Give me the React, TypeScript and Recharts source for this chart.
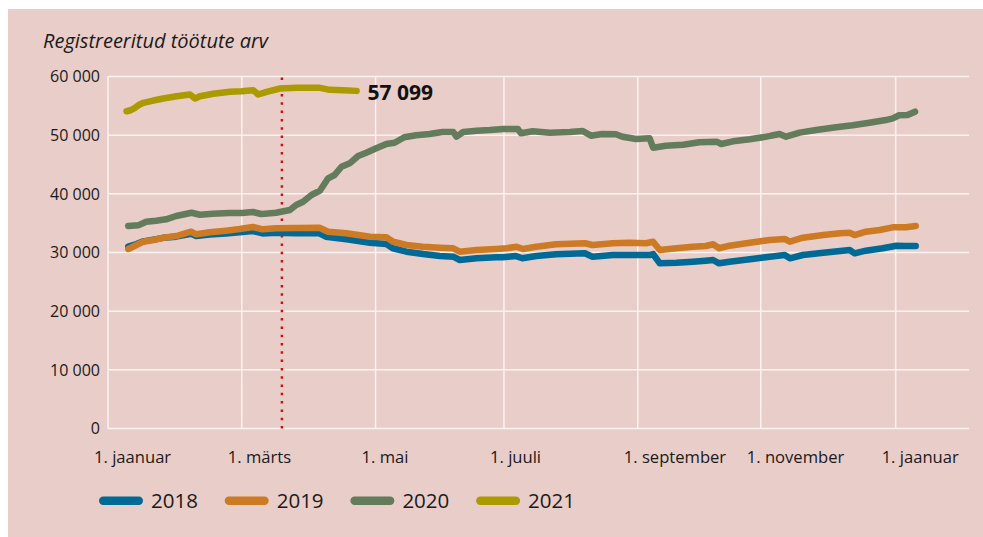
import React from "react";
import { LineChart, Line, XAxis, YAxis, CartesianGrid, ReferenceLine, LabelList } from "recharts";

// x = position along the year axis (chart day index), v = registered unemployed
const x2018 = [9.4, 13.2, 16.3, 21, 25.6, 31.6, 38.5, 40.9, 47.2, 54.7, 61, 67.1, 71.7, 77.9, 87.2, 98, 101, 110.5, 116, 121.4, 129, 132, 138.3, 146, 153.8, 160, 163, 170.8, 180, 183, 189, 192, 198.5, 207.6, 221, 224.5, 234, 241.8, 251, 252.6, 255.7, 263.4, 271, 277, 280.4, 283.2, 288, 297.4, 306.6, 313.6, 316, 322, 331.5, 340.5, 343.7, 346, 351.2, 359, 365.3, 369.7, 374.3];
const v2018 = [31000, 31450, 31900, 32200, 32500, 32700, 33200, 32800, 33050, 33250, 33450, 33650, 33250, 33350, 33300, 33270, 32690, 32250, 31960, 31670, 31450, 30720, 30140, 29740, 29400, 29280, 28720, 29010, 29180, 29180, 29400, 29010, 29400, 29690, 29860, 29280, 29570, 29570, 29570, 29740, 28160, 28260, 28430, 28600, 28720, 28160, 28430, 28840, 29280, 29570, 29010, 29570, 29970, 30310, 30430, 29860, 30310, 30720, 31160, 31110, 31110];

const x2019 = [9.4, 13.2, 16.3, 21, 25.6, 31.6, 38.5, 40.9, 47.2, 54.7, 61, 67.1, 71.7, 77.9, 87.2, 98, 102, 110.5, 116, 121.4, 129, 132.1, 138.3, 146, 153.8, 160, 163, 170.8, 180, 184.7, 189.3, 192.3, 198.5, 207.6, 221, 224.5, 234, 241.8, 249.3, 252.6, 255.7, 263.4, 271, 277, 280.4, 283.2, 288, 297.4, 306.6, 313.6, 316, 322, 331.5, 339.2, 343.7, 346, 351.2, 357.6, 363.7, 369.7, 374.3];
const v2019 = [30600, 31280, 31840, 32130, 32520, 32810, 33540, 33100, 33440, 33720, 34000, 34350, 33950, 34120, 34170, 34230, 33540, 33270, 32980, 32690, 32590, 31840, 31280, 30990, 30820, 30720, 30140, 30430, 30600, 30720, 30990, 30600, 30990, 31400, 31570, 31280, 31570, 31670, 31570, 31840, 30430, 30720, 30990, 31110, 31400, 30720, 31160, 31670, 32130, 32300, 31840, 32520, 32980, 33270, 33370, 32980, 33540, 33840, 34290, 34290, 34520];

const x2020 = [9.4, 14, 17.7, 22.3, 26.9, 31.6, 38.7, 42.6, 48.5, 56.3, 62, 67.1, 71, 77.9, 82.5, 84.3, 87.2, 90.4, 94.3, 98.2, 102, 105, 108.2, 112, 115.9, 119.7, 124.3, 129, 132.8, 137.3, 142.8, 149, 155, 160, 161.5, 164.6, 170.8, 177, 183, 190, 191.4, 196.8, 204.7, 214, 220, 223.8, 229, 235.4, 238.4, 244.8, 251, 252.6, 258.5, 266.5, 274, 282, 284.2, 289.6, 297.4, 303.4, 311.2, 314.2, 320.5, 328.2, 337.4, 345.1, 352.8, 360.5, 363.7, 366.6, 370.5, 374];
const v2020 = [34520, 34630, 35250, 35420, 35660, 36220, 36780, 36440, 36610, 36730, 36750, 36900, 36560, 36780, 37120, 37240, 38100, 38660, 39800, 40530, 42650, 43210, 44620, 45200, 46450, 47010, 47760, 48490, 48710, 49640, 49980, 50200, 50540, 50540, 49740, 50540, 50760, 50880, 51050, 51050, 50320, 50660, 50430, 50540, 50710, 49910, 50200, 50150, 49740, 49350, 49460, 47860, 48200, 48370, 48780, 48890, 48490, 48950, 49300, 49630, 50200, 49740, 50430, 50880, 51340, 51680, 52120, 52580, 52870, 53390, 53440, 54000];

const x2021 = [8.6, 10.5, 12.5, 14.5, 16.4, 21, 25.6, 31.8, 38, 40.3, 42.6, 48.8, 56.5, 62, 67.3, 69.6, 73.5, 79.7, 87.4, 98.2, 102.8, 109, 115.2];
const v2021 = [54080, 54250, 54660, 55200, 55510, 55900, 56250, 56640, 56930, 56250, 56640, 57050, 57390, 57500, 57670, 56930, 57390, 57950, 58070, 58070, 57730, 57650, 57550];
const lastLabel2021 = 57099;

const xTickValues = [0, 62, 124, 183.5, 245.5, 302.5, 365];
const xTickLabels = ["1. jaanuar", "1. märts", "1. mai", "1. juuli", "1. september", "1. november", "1. jaanuar"];
const yTicks = [0, 10000, 20000, 30000, 40000, 50000, 60000];
const emergencyX = 80.6;

const seriesNames = ["2018", "2019", "2020", "2021"];
const seriesColors = ["#006a96", "#cd7a24", "#637d5c", "#ab9a00"];

const build = (xs: number[], vs: number[]) => xs.map((x, i) => ({ x, v: vs[i] }));
const seriesData = [build(x2018, v2018), build(x2019, v2019), build(x2020, v2020), build(x2021, v2021)];

const fmt = (n: number) => String(n).replace(/\B(?=(\d{3})+(?!\d))/g, " ");
const FONT = "'Open Sans', sans-serif";
const TEXT = "#1a1a1a";

const XTick = (props: any) => {
  const { x, y, payload } = props;
  const idx = xTickValues.indexOf(payload.value);
  return (
    <text x={x - 14} y={y + 34} textAnchor="start" fontSize={16.6} fontFamily={FONT} fill={TEXT}>
      {xTickLabels[idx]}
    </text>
  );
};

const lastIdx = x2021.length - 1;
const EndLabel = (props: any) => {
  const { x, y, index } = props;
  if (index !== lastIdx) return null;
  return (
    <text x={x + 11} y={y + 9} fontSize={21} fontWeight={700} fontFamily={FONT} fill="#111">
      {fmt(lastLabel2021)}
    </text>
  );
};

export default function App() {
  return (
    <>
      <style>{`html, body { overflow: hidden; }`}</style>
      <div style={{ position: "fixed", left: 8, top: 9, width: 1000, height: 560, background: "#e9cdc8", overflow: "hidden" }}>
        <LineChart width={975} height={528} margin={{ top: 67.5, right: 14, left: 0, bottom: 0 }}>
          <CartesianGrid stroke="#fbf3f1" strokeWidth={1.5} verticalValues={xTickValues} horizontalValues={yTicks} />
          <XAxis
            type="number"
            dataKey="x"
            domain={[0, 399]}
            ticks={xTickValues}
            tick={<XTick />}
            tickLine={false}
            axisLine={false}
            tickSize={0}
            tickMargin={0}
            height={108.5}
            allowDataOverflow
            interval={0}
          />
          <YAxis
            type="number"
            domain={[0, 60000]}
            ticks={yTicks}
            tickFormatter={fmt}
            tick={{ fill: TEXT, fontSize: 16, fontFamily: FONT }}
            tickLine={false}
            axisLine={false}
            tickSize={0}
            tickMargin={8}
            width={100}
            interval={0}
          />
          <ReferenceLine x={emergencyX} stroke="#cc1111" strokeWidth={2.5} strokeDasharray="2.5 5.8" />
          {seriesData.map((d, i) => (
            <Line
              key={seriesNames[i]}
              data={d}
              dataKey="v"
              name={seriesNames[i]}
              type="linear"
              stroke={seriesColors[i]}
              strokeWidth={6.5}
              strokeLinejoin="round"
              strokeLinecap="round"
              dot={false}
              activeDot={false}
              isAnimationActive={false}
            >
              {i === 3 ? <LabelList dataKey="v" content={<EndLabel />} /> : null}
            </Line>
          ))}
        </LineChart>
        <svg width={975} height={528} style={{ position: "absolute", left: 0, top: 0, pointerEvents: "none" }}>
          <text x={35} y={39} fontSize={20} fontStyle="italic" fontFamily={FONT} fill={TEXT}>
            Registreeritud töötute arv
          </text>
          {seriesNames.map((name, i) => {
            const bx = 91 + i * 125.7;
            return (
              <g key={name}>
                <line x1={bx + 4.2} x2={bx + 39.8} y1={491.7} y2={491.7} stroke={seriesColors[i]} strokeWidth={8.4} strokeLinecap="round" />
                <text x={bx + 52} y={498.8} fontSize={20.5} fontFamily={FONT} fill={TEXT}>
                  {name}
                </text>
              </g>
            );
          })}
        </svg>
      </div>
    </>
  );
}
